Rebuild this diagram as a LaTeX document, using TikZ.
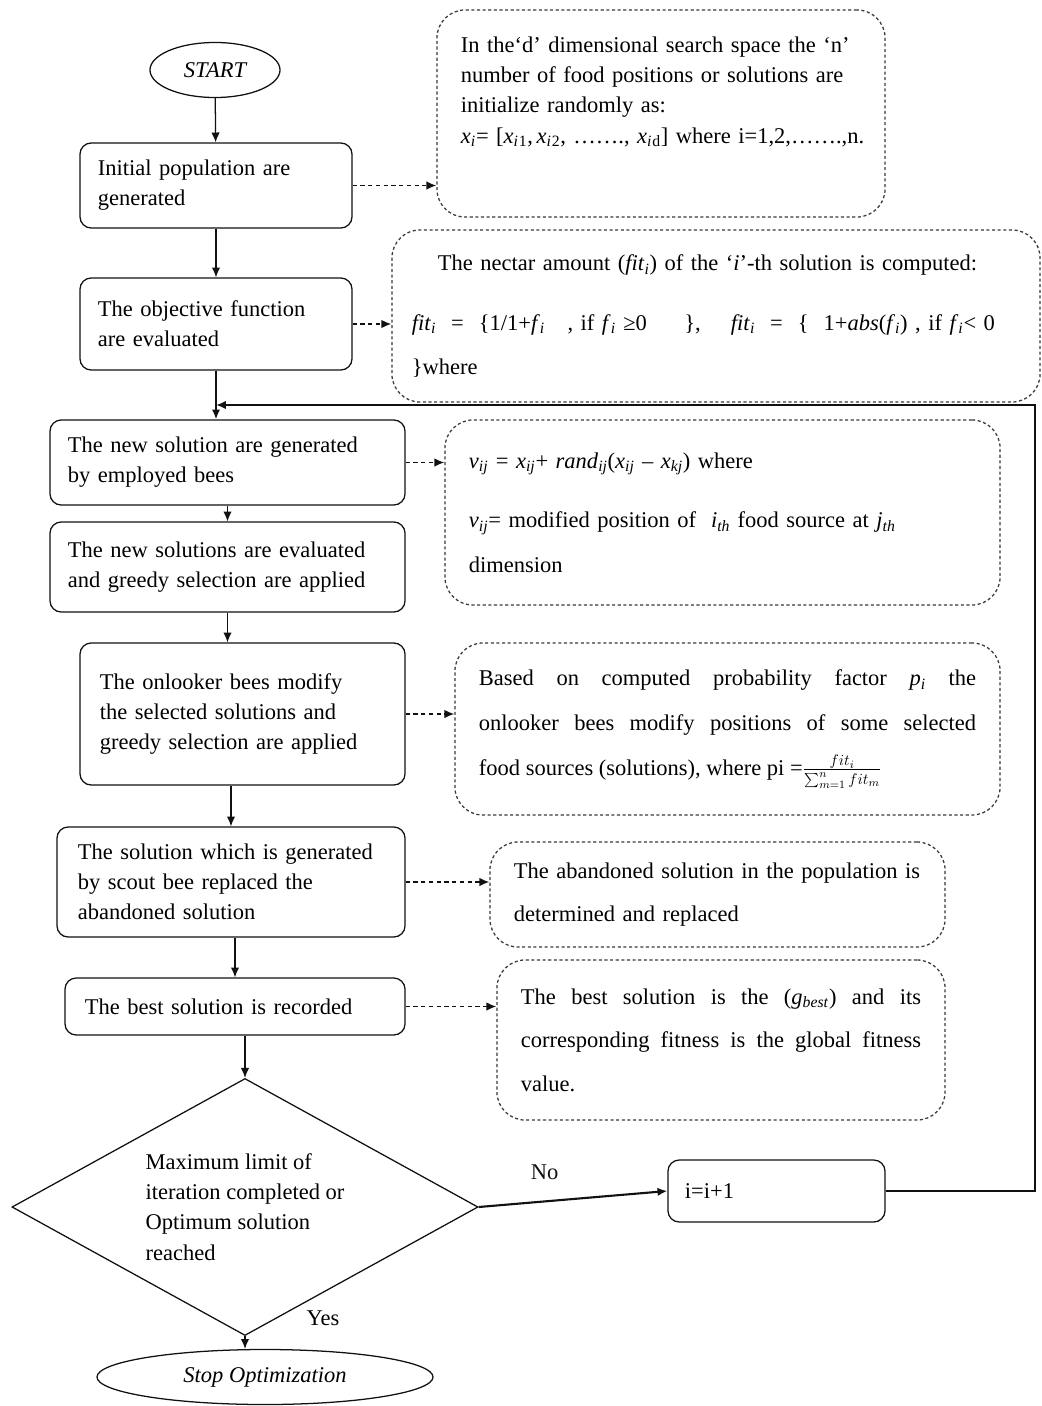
\documentclass[tikz,border=0pt]{standalone}
\usepackage{fontspec}
\setmainfont{Liberation Serif}
\usepackage{tikz}
\usetikzlibrary{
  arrows.meta,
  positioning,
  shapes.geometric,
  calc
}
\definecolor{abcink}{HTML}{111111}
\definecolor{abcdash}{HTML}{3A3A3A}
\newcommand{\vsub}[2]{\textit{#1}\textsubscript{\textit{#2}}}
\newcommand{\flowfont}{\fontsize{16}{21.5}\selectfont}

\begin{document}
\begin{tikzpicture}[
      x=0.025cm, y=-0.025cm,
      proc/.style={
        rectangle, rounded corners=8pt,
        draw=abcink, line width=0.9pt,
        font=\flowfont, align=left,
        inner xsep=0.45cm, inner ysep=0pt
      },
      note/.style={
        rectangle, rounded corners=20pt,
        draw=abcdash, line width=0.9pt, dash pattern=on 2.2pt off 1.8pt,
        font=\flowfont, align=left,
        inner xsep=0.6cm, inner ysep=0pt
      },
      term/.style={ellipse, draw=abcink, line width=0.9pt, font=\flowfont\itshape, inner sep=0pt},
      decide/.style={diamond, aspect=1.8, draw=abcink, line width=0.9pt, font=\flowfont, align=left, inner sep=0pt},
      flow/.style={-{Latex[length=7pt,width=6pt]}, line width=0.9pt, abcink},
      link/.style={-{Latex[length=7pt,width=6pt]}, line width=1.1pt, abcink, dash pattern=on 3pt off 2.5pt},
      lbl/.style={font=\flowfont}
    ]
      \path[fill=white] (0,0) rectangle (1041,1406);

      % Main column
      \node[term, minimum width=3.25cm, minimum height=1.375cm] (start) at (215,70) {START};
      \node[proc, minimum width=6.8cm, text width=5.9cm, minimum height=2.125cm] (init) at (216,185.5)
        {Initial population are\\generated};
      \node[proc, minimum width=6.8cm, text width=5.9cm, minimum height=2.3cm] (objf) at (216,324)
        {The objective function\\are evaluated};
      \node[proc, minimum width=8.875cm, text width=7.975cm, minimum height=2.125cm] (empl) at (227.5,462.5)
        {The new solution are generated\\by employed bees};
      \node[proc, minimum width=8.875cm, text width=7.975cm, minimum height=2.25cm] (greedy) at (227.5,567)
        {The new solutions are evaluated\\and greedy selection are applied};
      \node[proc, minimum width=8.125cm, text width=7.125cm, minimum height=3.55cm, inner xsep=0.5cm] (onlook) at (242.5,714)
        {The onlooker bees modify\\the selected solutions and\\greedy selection are applied};
      \node[proc, minimum width=8.7cm, text width=7.65cm, minimum height=2.75cm, inner xsep=0.525cm] (scout) at (231,882)
        {The solution which is generated\\by scout bee replaced the\\abandoned solution};
      \node[proc, minimum width=8.5cm, text width=7.5cm, minimum height=1.425cm, inner xsep=0.5cm] (best) at (235,1006.5)
        {The best solution is recorded};
      \node[decide, minimum width=11.65cm, minimum height=6.425cm] (limit) at (245,1207)
        {Maximum limit of\\iteration completed or\\Optimum solution\\reached};
      \node[proc, minimum width=5.425cm, text width=4.575cm, minimum height=1.55cm, inner xsep=0.425cm] (inc) at (776.5,1191)
        {i=i+1};
      \node[term, minimum width=8.4cm, minimum height=1.375cm] (stop) at (265,1377) {Stop Optimization};

      % Notes
      \node[note, minimum width=11.2cm, text width=10cm, minimum height=5.175cm] (n1) at (661,113.5)
        {In the‘d’ dimensional search space the ‘n’\\
         number of food positions or solutions are\\
         initialize randomly as:\\
         \mbox{\vsub{x}{i}= [\vsub{x}{i}\textsubscript{1},\,\vsub{x}{i}\textsubscript{2}, ……., \vsub{x}{i}\textsubscript{d}] where i=1,2,…….,n.}\\[12pt]\mbox{}};
      \node[note, minimum width=16.2cm, text width=15.2cm, minimum height=4.3cm, inner xsep=0.5cm] (n2) at (716,316)
        {\hspace*{0.65cm}The nectar amount (\vsub{fit}{i}) of the ‘\textit{i}’-th solution is computed:\\[21pt]
         \vsub{fit}{i}\ \ =\ \ \{1/1+\vsub{f}{i}\ \ \ , if \vsub{f}{i} ≥0\quad\ \ \},\quad\ \vsub{fit}{i}\ \ =\ \ \{\ \ 1+\textit{abs}(\vsub{f}{i}) , if \vsub{f}{i}< 0\\[10pt]
         \}where};
      \node[note, minimum width=13.875cm, text width=12.675cm, minimum height=4.625cm] (n3) at (722.5,512.5)
        {\vsub{v}{ij} = \vsub{x}{ij}+ \vsub{rand}{ij}(\vsub{x}{ij} – \vsub{x}{kj}) where\\[21pt]
         \vsub{v}{ij}= modified position of \ \vsub{i}{th} food source at \vsub{j}{th}\\[10pt]
         dimension};
      \node[note, minimum width=13.625cm, text width=12.425cm, minimum height=4.3cm, align=justify,
            font=\fontsize{16}{32}\selectfont] (n4) at (727.5,729)
        {Based on computed probability factor \vsub{p}{i} the\linebreak
         onlooker bees modify positions of some selected\linebreak
         food sources (solutions), where pi =$\frac{fit_i}{\sum_{m=1}^{n} fit_m}$};
      \node[note, minimum width=11.375cm, text width=10.175cm, minimum height=2.625cm,
            font=\fontsize{16}{31}\selectfont] (n5) at (717.5,894.5)
        {The abandoned solution in the population is\\determined and replaced};
      \node[note, minimum width=11.2cm, text width=10cm, minimum height=4cm, align=justify,
            font=\fontsize{16}{31}\selectfont] (n6) at (721,1040)
        {The best solution is the (\vsub{g}{best}) and its\linebreak
         corresponding fitness is the global fitness\linebreak
         value.};

      % Flow arrows
      \draw[flow] (start) -- (init);
      \draw[flow] (init) -- (objf);
      \draw[flow, line width=1.4pt] (objf) -- (objf |- empl.north);
      \draw[flow] (empl) -- (greedy);
      \draw[flow] (greedy) -- (greedy |- onlook.north);
      \draw[flow] (scout.north |- onlook.south) -- (scout);
      \draw[flow] (best.north |- scout.south) -- (best);
      \draw[flow] (limit.north |- best.south) -- (limit);
      \draw[flow, line width=1.5pt] (limit.east) -- node[lbl, pos=0.35, above=11pt] {No} (inc.west);
      \draw[flow] (limit.south) -- (limit.south |- stop.north);
      \node[lbl] (yes) at (323,1318) {Yes};

      % Loop back
      \coordinate (loopR) at (1035,405);
      \coordinate (merge) at (216,405);
      \draw[flow, line width=1.8pt] (inc.east) -| (loopR) -- (merge);

      % Dashed links to notes
      \draw[link] (init.east) -- (init.east -| n1.west);
      \draw[link] (objf.east) -- (objf.east -| n2.west);
      \draw[link] (empl.east) -- (empl.east -| n3.west);
      \draw[link] (onlook.east) -- (onlook.east -| n4.west);
      \draw[link] (scout.east) -- (scout.east -| n5.west);
      \draw[link] (best.east) -- (best.east -| n6.west);
    \end{tikzpicture}
\end{document}
